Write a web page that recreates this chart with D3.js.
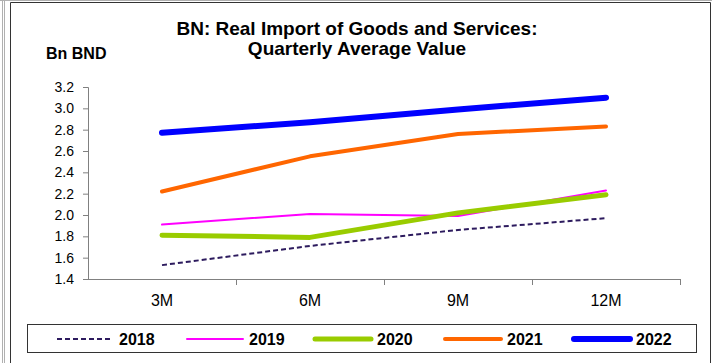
<!DOCTYPE html>
<html>
<head>
<meta charset="utf-8">
<script src="https://cdn.jsdelivr.net/npm/d3@7"></script>
<style>
  body { margin: 0; background: #fff; }
  text { font-family: "Liberation Sans", Arial, sans-serif; }
</style>
</head>
<body>
<div id="chart"></div>
<script>
// data
var periods = ["3M", "6M", "9M", "12M"];
var years = ["2018", "2019", "2020", "2021", "2022"];
var v2018 = [1.53, 1.71, 1.86, 1.97];
var v2019 = [1.91, 2.01, 1.99, 2.23];
var v2020 = [1.81, 1.79, 2.02, 2.19];
var v2021 = [2.22, 2.55, 2.76, 2.83];
var v2022 = [2.77, 2.87, 2.99, 3.10];
var yTicks = [1.4, 1.6, 1.8, 2.0, 2.2, 2.4, 2.6, 2.8, 3.0, 3.2];

var series = [
  { name: "2018", values: v2018, color: "#2d1b5e", width: 2, dash: "5,3" },
  { name: "2019", values: v2019, color: "#ff00ff", width: 2, dash: null },
  { name: "2020", values: v2020, color: "#99cc00", width: 5, dash: null },
  { name: "2021", values: v2021, color: "#ff6600", width: 4, dash: null },
  { name: "2022", values: v2022, color: "#0000ff", width: 6, dash: null }
];

var width = 712, height = 363;
var svg = d3.select("#chart").append("svg")
    .attr("width", width)
    .attr("height", height);

// outer frames
svg.append("line").attr("x1", 0).attr("x2", width).attr("y1", 0.5).attr("y2", 0.5)
    .attr("stroke", "#b0b0b0").attr("stroke-width", 1);
svg.append("line").attr("x1", 2.5).attr("x2", 2.5).attr("y1", 0).attr("y2", height)
    .attr("stroke", "#b0b0b0");
svg.append("line").attr("x1", 4.5).attr("x2", 4.5).attr("y1", 0).attr("y2", height)
    .attr("stroke", "#b0b0b0");
svg.append("path")
    .attr("d", "M10.5," + height + "V2.5H710.5V" + height)
    .attr("fill", "none")
    .attr("stroke", "#333");

var x = d3.scaleBand().domain(periods).range([88, 680]);
var y = d3.scaleLinear().domain([1.4, 3.2]).range([279, 87]);

// title
svg.append("text").attr("x", 357).attr("y", 35)
    .attr("text-anchor", "middle").attr("font-size", 19).attr("font-weight", "bold")
    .text("BN: Real Import of Goods and Services:");
svg.append("text").attr("x", 357).attr("y", 55)
    .attr("text-anchor", "middle").attr("font-size", 19).attr("font-weight", "bold")
    .text("Quarterly Average Value");
svg.append("text").attr("x", 46).attr("y", 59)
    .attr("font-size", 16).attr("font-weight", "bold")
    .text("Bn BND");

// axes
var yAxis = svg.append("g").attr("transform", "translate(88,0)")
    .call(d3.axisLeft(y).tickValues(yTicks).tickFormat(d3.format(".1f")).tickSize(5).tickPadding(9));
yAxis.select(".domain").attr("stroke", "#808080");
yAxis.selectAll(".tick line").attr("stroke", "#808080");
yAxis.selectAll("text").attr("font-size", 14).attr("fill", "#000")
    .style("font-family", "Liberation Sans, Arial, sans-serif");

var xAxisG = svg.append("g").attr("transform", "translate(0,279)");
xAxisG.append("line").attr("x1", 88).attr("x2", 680).attr("y1", 0.5).attr("y2", 0.5)
    .attr("stroke", "#808080");
var bounds = periods.map(function(p) { return x(p) + x.bandwidth(); });
xAxisG.selectAll(".xt").data(bounds).enter().append("line")
    .attr("x1", function(d) { return Math.round(d) + 0.5; })
    .attr("x2", function(d) { return Math.round(d) + 0.5; })
    .attr("y1", 0).attr("y2", 6).attr("stroke", "#808080");
xAxisG.selectAll(".xl").data(periods).enter().append("text")
    .attr("x", function(d) { return x(d) + x.bandwidth() / 2; })
    .attr("y", 27)
    .attr("text-anchor", "middle").attr("font-size", 16)
    .text(function(d) { return d; });

// lines
var line = d3.line()
    .x(function(d, i) { return x(periods[i]) + x.bandwidth() / 2; })
    .y(function(d) { return y(d); });

svg.selectAll(".series").data(series).enter().append("path")
    .attr("fill", "none")
    .attr("stroke", function(d) { return d.color; })
    .attr("stroke-width", function(d) { return d.width; })
    .attr("stroke-dasharray", function(d) { return d.dash; })
    .attr("stroke-linecap", function(d) { return d.dash ? "butt" : "round"; })
    .attr("stroke-linejoin", "round")
    .attr("d", function(d) { return line(d.values); });

// legend
svg.append("rect").attr("x", 27.5).attr("y", 324.5).attr("width", 669).attr("height", 28)
    .attr("fill", "#fff").attr("stroke", "#333");
var legX = [57, 187, 315, 445, 574];
var leg = svg.selectAll(".leg").data(series).enter().append("g")
    .attr("transform", function(d, i) { return "translate(" + legX[i] + ",339)"; });
leg.append("line").attr("x1", 0).attr("x2", 56).attr("y1", 0).attr("y2", 0)
    .attr("stroke", function(d) { return d.color; })
    .attr("stroke-width", function(d) { return d.width; })
    .attr("stroke-dasharray", function(d) { return d.dash; })
    .attr("stroke-linecap", function(d) { return d.dash ? "butt" : "round"; });
leg.append("text").attr("x", 62).attr("y", 6)
    .attr("font-size", 16).attr("font-weight", "bold")
    .text(function(d) { return d.name; });
</script>
</body>
</html>
